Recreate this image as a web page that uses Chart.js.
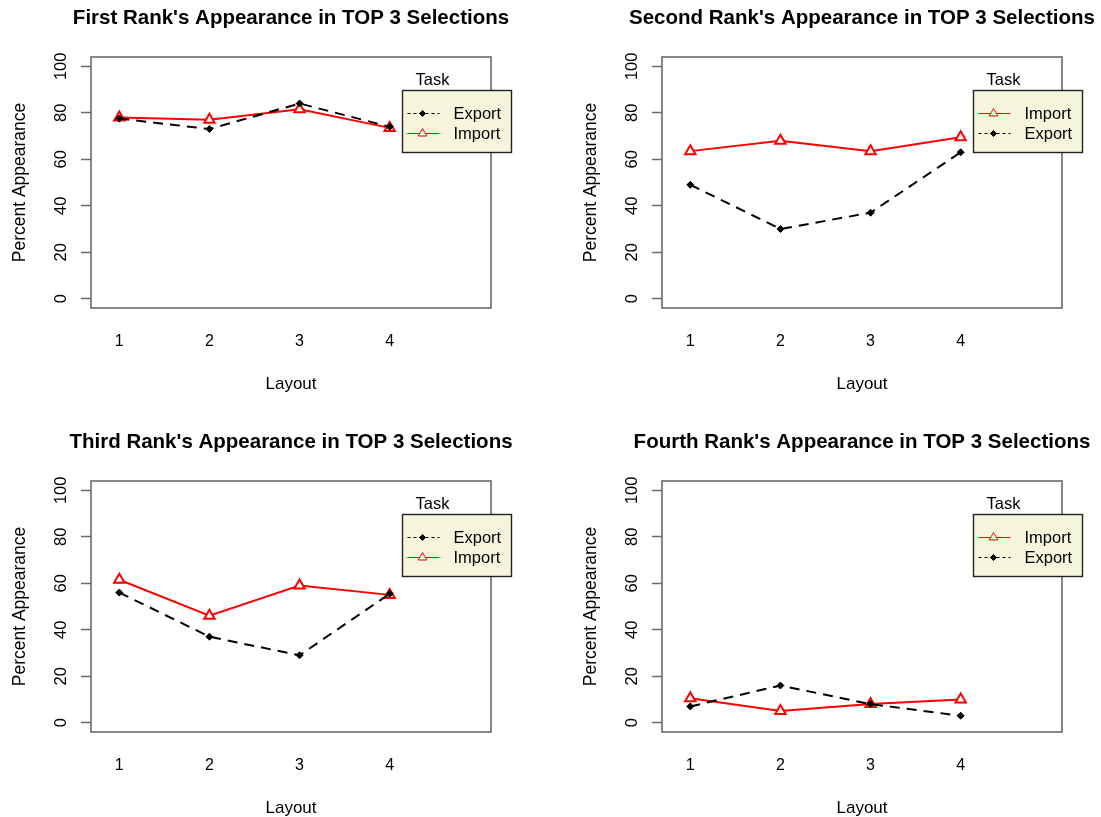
<!DOCTYPE html>
<html>
<head>
<meta charset="utf-8">
<script src="https://cdn.jsdelivr.net/npm/chart.js@4.4.1/dist/chart.umd.min.js"></script>
<style>
  html, body { margin: 0; padding: 0; background: #fff; }
  body { position: relative; width: 1101px; height: 817px; overflow: hidden; }
  .panel { position: absolute; }
  canvas { display: block; }
</style>
</head>
<body>
<div class="panel" style="left:0px;top:0px"><canvas id="p1" width="550" height="412"></canvas></div>
<div class="panel" style="left:571px;top:0px"><canvas id="p2" width="530" height="412"></canvas></div>
<div class="panel" style="left:0px;top:424px"><canvas id="p3" width="550" height="412"></canvas></div>
<div class="panel" style="left:571px;top:424px"><canvas id="p4" width="530" height="412"></canvas></div>

<script>
// ---- data ----
const layouts = [1, 2, 3, 4];
const layoutLabels = ['1', '2', '3', '4'];
const yTickValues = [0, 20, 40, 60, 80, 100];
const yTickLabels = ['0', '20', '40', '60', '80', '100'];

const panelTitles = [
  "First Rank's Appearance in TOP 3 Selections",
  "Second Rank's Appearance in TOP 3 Selections",
  "Third Rank's Appearance in TOP 3 Selections",
  "Fourth Rank's Appearance in TOP 3 Selections"
];

const exportFirst  = [77.5, 73, 84, 74];
const importFirst  = [78, 77, 81.5, 73.5];
const exportSecond = [49, 30, 37, 63];
const importSecond = [63.5, 68, 63.5, 69.5];
const exportThird  = [56, 37, 29, 55.5];
const importThird  = [61.5, 46, 59, 55];
const exportFourth = [7, 16, 8, 3];
const importFourth = [10.5, 5, 8, 10];

const keyOrderFirst  = ['Export', 'Import'];
const keyOrderSecond = ['Import', 'Export'];
const keyOrderThird  = ['Export', 'Import'];
const keyOrderFourth = ['Import', 'Export'];

const traceLabel = 'Task';
const xTitle = 'Layout';
const yTitle = 'Percent Appearance';

// ---- styling ----
const FONT = "'Liberation Sans', Arial, Helvetica, sans-serif";
const FRAME = '#6a6a6a';
Chart.defaults.font.family = FONT;
Chart.defaults.color = '#000';

const seriesStyle = {
  Export: {
    line: '#000000', dash: [10, 7], width: 2,
    point: 'rectRot', radius: 3.5, fill: '#000000', border: '#000000', borderW: 1,
    keyDash: [3, 3], keyRadius: 3, keyFill: '#000000', keyBorderW: 1
  },
  Import: {
    line: '#ff0000', dash: [], width: 2,
    point: 'triangle', radius: 6, fill: '#ffffff', border: '#ff0000', borderW: 2,
    keyDash: [], keyRadius: 5, keyFill: '#f5f5dc', keyBorderW: 1
  }
};

// panel heading, box around the plotting region and the "Task" key
const frameAndKey = {
  id: 'frameAndKey',
  afterDraw(chart, args, opts) {
    const ctx = chart.ctx;
    const a = chart.chartArea;
    ctx.save();

    // heading centred over the plotting region (not squeezed to its width)
    ctx.fillStyle = '#000';
    ctx.font = 'bold 20.5px ' + FONT;
    ctx.textAlign = 'center';
    ctx.textBaseline = 'alphabetic';
    ctx.fillText(opts.heading, (a.left + a.right) / 2, 24);

    ctx.strokeStyle = FRAME;
    ctx.lineWidth = 1.6;
    ctx.strokeRect(a.left, a.top, a.right - a.left, a.bottom - a.top);

    const xs = chart.scales.x, ys = chart.scales.y;
    const L = Math.round(xs.getPixelForValue(opts.anchorX)) - 0.5;
    const T = Math.round(ys.getPixelForValue(opts.anchorY)) + 0.5;
    const W = 109, H = 62;

    ctx.fillStyle = '#f5f5dc';
    ctx.fillRect(L, T, W, H);
    ctx.strokeStyle = '#222';
    ctx.lineWidth = 1.4;
    ctx.strokeRect(L, T, W, H);

    ctx.fillStyle = '#000';
    ctx.font = '16.5px ' + FONT;
    ctx.textBaseline = 'middle';
    ctx.textAlign = 'left';
    ctx.fillText(traceLabel, L + 13, T - 10);

    opts.order.forEach((name, k) => {
      const s = seriesStyle[name];
      const cy = T + 23 + 20 * k;
      ctx.save();
      ctx.strokeStyle = s.line;
      ctx.lineWidth = 1;
      ctx.setLineDash(s.keyDash);
      ctx.beginPath();
      ctx.moveTo(L + 5, cy);
      ctx.lineTo(L + 37, cy);
      ctx.stroke();
      ctx.setLineDash([]);
      ctx.fillStyle = s.keyFill;
      ctx.strokeStyle = s.border;
      ctx.lineWidth = s.keyBorderW;
      Chart.helpers.drawPoint(ctx, {
        pointStyle: s.point, radius: s.keyRadius, borderWidth: s.keyBorderW, rotation: 0
      }, L + 20, cy);
      ctx.restore();
      ctx.fillStyle = '#000';
      ctx.fillText(name, L + 51, cy + 1);
    });
    ctx.restore();
  }
};

function series(name, values, order) {
  const s = seriesStyle[name];
  return {
    label: name,
    data: layouts.map((x, i) => ({ x, y: values[i] })),
    borderColor: s.line,
    borderWidth: s.width,
    borderDash: s.dash,
    tension: 0,
    fill: false,
    pointStyle: s.point,
    pointRadius: s.radius,
    pointBackgroundColor: s.fill,
    pointBorderColor: s.border,
    pointBorderWidth: s.borderW,
    order
  };
}

function makePanel(id, title, exp, imp, keyOrder) {
  const canvas = document.getElementById(id);
  const W = canvas.width, H = canvas.height;
  const plotTop = 57, plotRight = 491, plotBottom = 308;
  return new Chart(canvas, {
    type: 'line',
    data: {
      datasets: [
        series('Export', exp, 0),
        series('Import', imp, 1)
      ]
    },
    options: {
      responsive: false,
      animation: false,
      devicePixelRatio: 1,
      events: [],
      layout: { padding: { left: 0, right: W - plotRight, top: plotTop, bottom: 0 } },
      plugins: {
        legend: { display: false },
        tooltip: { enabled: false },
        title: { display: false },
        frameAndKey: { heading: title, anchorX: 4.15, anchorY: 90, order: keyOrder }
      },
      scales: {
        x: {
          type: 'linear',
          min: 0.686,
          max: 5.124,
          afterBuildTicks: (s) => { s.ticks = layouts.map(v => ({ value: v })); },
          afterFit: (s) => { s.height = H - plotBottom; },
          grid: { display: false, drawTicks: false },
          border: { display: false },
          ticks: {
            autoSkip: false, minRotation: 0, maxRotation: 0, padding: 24,
            color: '#000', font: { family: FONT, size: 16 },
            callback: (v) => layoutLabels[layouts.indexOf(v)]
          },
          title: {
            display: true, text: xTitle, color: '#000',
            font: { family: FONT, size: 17 },
            padding: { top: 0, bottom: 17.3 }
          }
        },
        y: {
          type: 'linear',
          min: -4,
          max: 104,
          afterBuildTicks: (s) => { s.ticks = yTickValues.map(v => ({ value: v })); },
          afterFit: (s) => { s.width = 91; },
          grid: {
            display: true, drawOnChartArea: false, drawTicks: true,
            tickLength: 10, tickColor: FRAME, tickWidth: 1.5
          },
          border: { display: false },
          ticks: {
            autoSkip: false, minRotation: 90, maxRotation: 90,
            crossAlign: 'center', padding: 6,
            color: '#000', font: { family: FONT, size: 16.5 },
            callback: (v) => yTickLabels[yTickValues.indexOf(v)]
          },
          title: {
            display: true, text: yTitle, color: '#000',
            font: { family: FONT, size: 17.5, lineHeight: 1 },
            padding: { top: 11, bottom: 0 }
          }
        }
      }
    },
    plugins: [frameAndKey]
  });
}

makePanel('p1', panelTitles[0], exportFirst, importFirst, keyOrderFirst);
makePanel('p2', panelTitles[1], exportSecond, importSecond, keyOrderSecond);
makePanel('p3', panelTitles[2], exportThird, importThird, keyOrderThird);
makePanel('p4', panelTitles[3], exportFourth, importFourth, keyOrderFourth);
</script>
</body>
</html>
